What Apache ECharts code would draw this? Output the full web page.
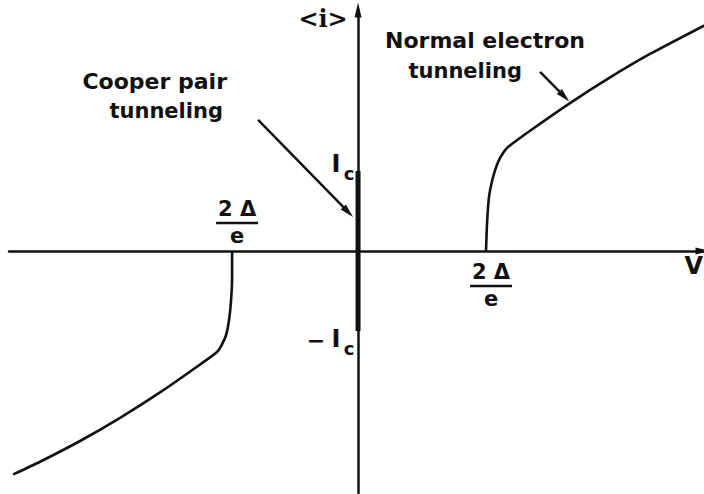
<!DOCTYPE html>
<html>
<head>
<meta charset="utf-8">
<script src="https://cdn.jsdelivr.net/npm/echarts/dist/echarts.min.js"></script>
<style>
  html, body { margin: 0; padding: 0; background: #ffffff; }
  #chart { width: 704px; height: 494px; }
</style>
</head>
<body>
<div id="chart"></div>
<script>
// Voltage is measured in units of the gap voltage 2Δ/e, current in units of Ic.

// Quasiparticle (normal electron) branch for V > 0
const branchPositive = [
  [1.000, 0.000], [1.008, 0.350], [1.023, 0.675], [1.055, 0.925], [1.094, 1.113],
  [1.133, 1.225], [1.172, 1.300], [1.344, 1.503], [1.656, 1.849], [1.969, 2.170],
  [2.281, 2.463], [2.719, 2.830]
];

// Quasiparticle branch for V < 0
const branchNegative = [
  [-0.984, 0.000], [-0.984, -0.325], [-0.992, -0.613], [-1.008, -0.863], [-1.031, -1.050],
  [-1.070, -1.188], [-1.102, -1.263], [-1.234, -1.419], [-1.547, -1.768], [-1.859, -2.085],
  [-2.172, -2.375], [-2.484, -2.634], [-2.695, -2.793]
];

// Josephson (Cooper pair) supercurrent at zero voltage, from -Ic to +Ic
const supercurrent = [[0, -1], [0, 1]];

// Gap voltage marks (±2Δ/e) and critical current marks (±Ic)
const gapVoltages = [-0.984, 1.000];
const criticalCurrents = [1, -1];

// Callout arrows: [from, to] in (V, <i>) coordinates
const cooperArrow = [[-0.781, 1.64], [-0.039, 0.425]];
const normalArrow = [[1.422, 2.24], [1.650, 1.87]];

const INK = '#111111';
const FONT = 'DejaVu Sans';

const chart = echarts.init(document.getElementById('chart'), null, { renderer: 'svg' });

const option = {
  backgroundColor: '#ffffff',
  animation: false,
  grid: { left: 9, right: 1, top: 10, bottom: 1 },
  xAxis: {
    type: 'value', min: -2.727, max: 2.695,
    axisLine: { onZero: true, symbol: ['none', 'triangle'], symbolSize: [7, 15],
                lineStyle: { color: INK, width: 2.5 } },
    axisTick: { show: false }, axisLabel: { show: false }, splitLine: { show: false }
  },
  yAxis: {
    type: 'value', min: -3.025, max: 3.0125,
    axisLine: { onZero: true, symbol: ['none', 'triangle'], symbolSize: [7, 15],
                lineStyle: { color: INK, width: 2.5 } },
    axisTick: { show: false }, axisLabel: { show: false }, splitLine: { show: false }
  },
  series: [
    {
      type: 'line', data: branchPositive, smooth: 0.25, showSymbol: false,
      lineStyle: { color: INK, width: 2.6 }
    },
    {
      type: 'line', data: branchNegative, smooth: 0.25, showSymbol: false,
      lineStyle: { color: INK, width: 2.6 }
    },
    {
      type: 'line', data: supercurrent, showSymbol: false,
      lineStyle: { color: INK, width: 5 }
    }
  ]
};

chart.setOption(option);

const toPx = (v, i) => chart.convertToPixel({ gridIndex: 0 }, [v, i]);
const origin = toPx(0, 0);

function text(str, x, y, size, opts) {
  return {
    type: 'text', x: x, y: y, z: 10,
    style: Object.assign({
      text: str, fill: INK, font: 'bold ' + size + 'px "' + FONT + '"',
      textAlign: 'center', textVerticalAlign: 'middle'
    }, opts || {})
  };
}

// straight arrow with a narrow filled head, ends given in data coordinates
function arrow(seg) {
  const a = toPx(seg[0][0], seg[0][1]);
  const b = toPx(seg[1][0], seg[1][1]);
  const dx = b[0] - a[0], dy = b[1] - a[1];
  const len = Math.hypot(dx, dy);
  const ux = dx / len, uy = dy / len;
  const headLen = 14, halfW = 3.6;
  const bx = b[0] - ux * headLen, by = b[1] - uy * headLen;
  return [
    { type: 'line', z: 9,
      shape: { x1: a[0], y1: a[1], x2: bx + ux * 2, y2: by + uy * 2 },
      style: { stroke: INK, lineWidth: 2.4 } },
    { type: 'polygon', z: 9,
      shape: { points: [[b[0], b[1]], [bx - uy * halfW, by + ux * halfW], [bx + uy * halfW, by - ux * halfW]] },
      style: { fill: INK } }
  ];
}

// 2Δ/e written as a stacked fraction centred at (cx, barY)
function gapFraction(cx, barY) {
  return [
    text('2 Δ', cx, barY - 14, 21),
    { type: 'rect', z: 10, shape: { x: cx - 21, y: barY - 1.25, width: 42, height: 2.5 },
      style: { fill: INK } },
    text('e', cx, barY + 13, 21)
  ];
}

const elements = [];

// axis titles
elements.push(text('<i>', origin[0] - 35, 18, 24, { font: 'bold 24px "DejaVu Serif"' }));
elements.push(text('V', 703, 266, 24, { textAlign: 'right' }));

// ±2Δ/e marks
const gl = toPx(gapVoltages[0], 0);
const gr = toPx(gapVoltages[1], 0);
elements.push.apply(elements, gapFraction(gl[0] + 5, gl[1] - 28));
elements.push.apply(elements, gapFraction(gr[0] + 5, gr[1] + 35));

// ±Ic marks
const icTop = toPx(0, criticalCurrents[0]);
const icBot = toPx(0, criticalCurrents[1]);
elements.push(text('I', icTop[0] - 22, icTop[1] - 7, 24));
elements.push(text('c', icTop[0] - 9, icTop[1] + 2, 18));
elements.push(text('−', icBot[0] - 42, icBot[1] + 9, 22));
elements.push(text('I', icBot[0] - 22, icBot[1] + 8, 24));
elements.push(text('c', icBot[0] - 9, icBot[1] + 17, 18));

// callout captions and their arrows
elements.push(text('Cooper pair', 227, 81, 22, { textAlign: 'right' }));
elements.push(text('tunneling', 223, 111, 21, { textAlign: 'right' }));
elements.push(text('Normal electron', 385, 40, 22, { textAlign: 'left' }));
elements.push(text('tunneling', 522, 71, 21, { textAlign: 'right' }));
elements.push.apply(elements, arrow(cooperArrow));
elements.push.apply(elements, arrow(normalArrow));

chart.setOption({ graphic: { elements: elements } });
</script>
</body>
</html>
